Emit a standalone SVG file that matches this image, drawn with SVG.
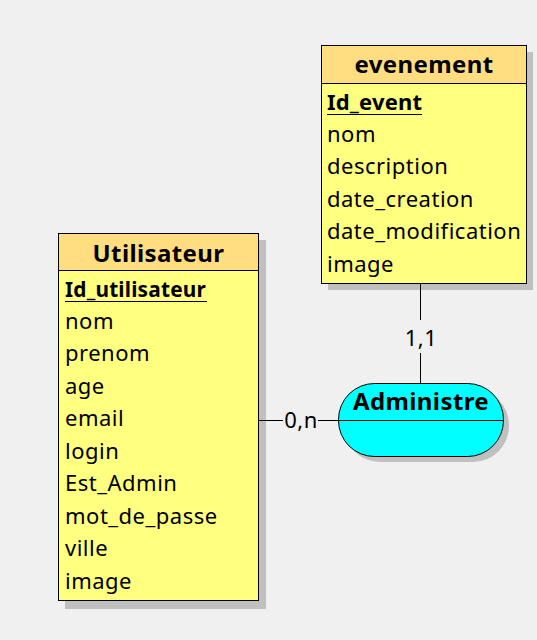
<svg xmlns="http://www.w3.org/2000/svg" width="537" height="640" viewBox="0 0 537 640">
<style>
.bg{fill:#f0f0f0}
.shadow{fill:#c0c0c0}
.head{fill:#ffdd80;stroke:#000;stroke-width:1}
.body{fill:#ffff80;stroke:#000;stroke-width:1}
.assoc{fill:#00ffff;stroke:#000;stroke-width:1}
.ln{stroke:#000;stroke-width:1;fill:none}
.t{font-family:"Noto Sans","Open Sans",sans-serif;font-size:22px;letter-spacing:0.5px;fill:#000}
.b{font-weight:bold;letter-spacing:0.2px}
.h{font-family:"Noto Sans","Open Sans",sans-serif;font-size:24px;font-weight:bold;letter-spacing:0.4px;fill:#000}
</style>
<rect class="bg" x="0" y="0" width="537" height="640"/>
<g id="evenement">
<rect class="shadow" x="328" y="52" width="205" height="238"/>
<rect class="body" x="321.5" y="45.5" width="205" height="238"/>
<rect class="head" x="321.5" y="45.5" width="205" height="38"/>
<text class="h" x="424" y="73" text-anchor="middle">evenement</text>
<text class="t b" x="327" y="109.5">Id_event</text>
<line class="ln" x1="327" y1="114.5" x2="422" y2="114.5"/>
<text class="t" x="327" y="142">nom</text>
<text class="t" x="327" y="174">description</text>
<text class="t" x="327" y="207">date_creation</text>
<text class="t" x="327" y="239">date_modification</text>
<text class="t" x="327" y="272">image</text>
</g>
<g id="utilisateur">
<rect class="shadow" x="65" y="240" width="201" height="369"/>
<rect class="body" x="58.5" y="233.5" width="200" height="367"/>
<rect class="head" x="58.5" y="233.5" width="200" height="37"/>
<text class="h" x="158.5" y="262" text-anchor="middle">Utilisateur</text>
<text class="t b" x="65" y="296.5" textLength="141" lengthAdjust="spacingAndGlyphs">Id_utilisateur</text>
<line class="ln" x1="65" y1="301.5" x2="207" y2="301.5"/>
<text class="t" x="65" y="328.5">nom</text>
<text class="t" x="65" y="361">prenom</text>
<text class="t" x="65" y="393.5">age</text>
<text class="t" x="65" y="426">email</text>
<text class="t" x="65" y="458.5">login</text>
<text class="t" x="65" y="491">Est_Admin</text>
<text class="t" x="65" y="523.5">mot_de_passe</text>
<text class="t" x="65" y="556">ville</text>
<text class="t" x="65" y="588.5">image</text>
</g>
<g id="administre">
<rect class="shadow" x="344" y="389" width="165" height="73" rx="36" ry="36"/>
<rect class="assoc" x="338.5" y="383.5" width="165" height="73" rx="36" ry="36"/>
<line class="ln" x1="338.5" y1="420.5" x2="503.5" y2="420.5"/>
<text class="h" x="421" y="410" text-anchor="middle">Administre</text>
</g>
<g id="connectors">
<line class="ln" x1="420.5" y1="284" x2="420.5" y2="320"/>
<line class="ln" x1="420.5" y1="353" x2="420.5" y2="383"/>
<text class="t" x="421" y="346" text-anchor="middle">1,1</text>
<line class="ln" x1="259" y1="420.5" x2="283" y2="420.5"/>
<line class="ln" x1="318" y1="420.5" x2="338" y2="420.5"/>
<text class="t" x="301" y="428" text-anchor="middle">0,n</text>
</g>
</svg>
